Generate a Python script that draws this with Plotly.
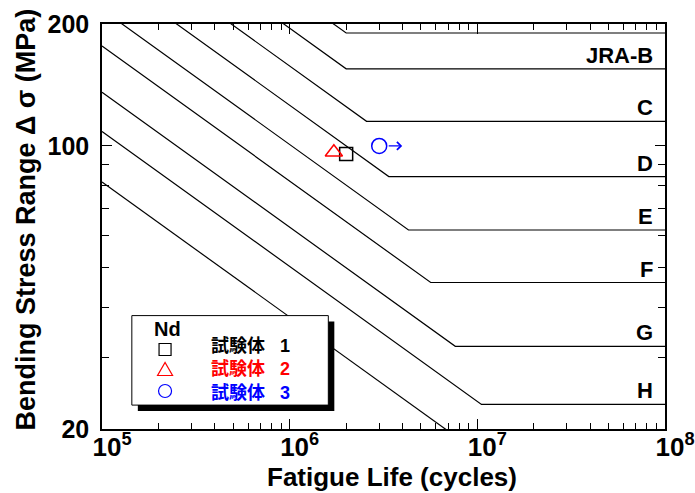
import math
import plotly.graph_objects as go

# JRA fatigue design categories (slope m = 3)
categories = ["A", "B", "C", "D", "E", "F", "G", "H", "H'"]
cat_labels = ["", "JRA-B", "C", "D", "E", "F", "G", "H", ""]
strength_2e6 = [190, 155, 125, 100, 80, 65, 50, 40, 30]      # MPa at 2x10^6 cycles
cafl = [190, 155, 115, 84, 62, 46, 32, 23, None]              # constant amplitude fatigue limit

# Test results
spec_names = ["試験体", "試験体", "試験体"]
spec_ids = ["1", "2", "3"]
spec_N = [2.0e6, 1.72e6, 3.0e6]
spec_S = [95.5, 96.5, 100.0]
spec_runout = [False, False, True]
spec_symbols = ["square-open", "triangle-up-open", "circle-open"]
spec_sizes = [13, 15, 15]
spec_colors = ["#000000", "#ff0000", "#0000ff"]

x_ticks = [1e5, 1e6, 1e7, 1e8]
x_ticktext = ["10<sup>5</sup>", "10<sup>6</sup>", "10<sup>7</sup>", "10<sup>8</sup>"]
y_ticks = [20, 100, 200]
y_ticktext = ["20", "100", "200"]

N_MIN, N_MAX = 1e5, 1e8
S_MIN, S_MAX = 20, 200

FONT = "Liberation Sans, Arial, Noto Sans CJK JP, sans-serif"

fig = go.Figure()

# S-N design curves: sloped part down to the knee, then horizontal
for cat, s2, lim in zip(categories, strength_2e6, cafl):
    s_start = s2 * (2e6 / N_MIN) ** (1 / 3)
    if lim is None:
        xs = [N_MIN, N_MAX]
        ys = [s_start, s2 * (2e6 / N_MAX) ** (1 / 3)]
    else:
        knee = 2e6 * (s2 / lim) ** 3
        xs = [N_MIN, knee, N_MAX]
        ys = [s_start, lim, lim]
    fig.add_trace(go.Scatter(
        x=xs, y=ys, mode="lines", name=cat, showlegend=False,
        line=dict(color="black", width=1.2), hoverinfo="skip"))

# Specimens
for nm, sid, n, s, sym, sz, col in zip(spec_names, spec_ids, spec_N, spec_S,
                                       spec_symbols, spec_sizes, spec_colors):
    fig.add_trace(go.Scatter(
        x=[n], y=[s], mode="markers", name=f"{nm} {sid}", showlegend=False,
        marker=dict(symbol=sym, size=sz, color=col, line=dict(width=1.5, color=col))))

annotations = []

# Run-out arrows
for n, s, ro, col in zip(spec_N, spec_S, spec_runout, spec_colors):
    if ro:
        annotations.append(dict(
            x=math.log10(n), y=math.log10(s), xref="x", yref="y", text="",
            showarrow=True, ax=-15, ay=0, axref="pixel", ayref="pixel", xshift=23,
            arrowhead=4, arrowsize=1.2, arrowwidth=1.3, arrowcolor=col))

# Category labels above each fatigue limit line
for lab, lim in zip(cat_labels, cafl):
    if lab and lim is not None:
        annotations.append(dict(
            x=1, y=math.log10(lim), xref="paper", yref="y", text=lab,
            showarrow=False, xanchor="right", yanchor="bottom", xshift=-10, yshift=-1,
            font=dict(family=FONT, size=22, color="black", weight="bold")))

# Axis titles
annotations.append(dict(
    x=0.515, y=-0.1173, xref="paper", yref="paper", text="Fatigue Life (cycles)",
    showarrow=False, xanchor="center", yanchor="middle",
    font=dict(family=FONT, size=26, color="black", weight="bold")))
annotations.append(dict(
    x=-0.135, y=0.517, xref="paper", yref="paper",
    text="Bending Stress Range Δ σ (MPa)", textangle=-90,
    showarrow=False, xanchor="center", yanchor="middle",
    font=dict(family=FONT, size=27, color="black", weight="bold")))

# Legend box with drop shadow
LX0, LX1, LY0, LY1 = 0.053, 0.402, 0.059, 0.280
SDX, SDY = 6 / 563, 6 / 405
shapes = [
    dict(type="rect", xref="paper", yref="paper", x0=LX0 + SDX, x1=LX1 + SDX,
         y0=LY0 - SDY, y1=LY1 - SDY, fillcolor="black", line=dict(width=0), layer="above"),
    dict(type="rect", xref="paper", yref="paper", x0=LX0, x1=LX1, y0=LY0, y1=LY1,
         fillcolor="white", line=dict(color="black", width=1), layer="above"),
]

key_x = 0.112
row_y = [0.1963, 0.1469, 0.0938]
text_x = 0.190

annotations.append(dict(
    x=0.1155, y=0.2457, xref="paper", yref="paper", text="Nd", showarrow=False,
    xanchor="center", yanchor="middle",
    font=dict(family=FONT, size=20, color="black", weight="bold")))

lines = []
for sym, col, ry, nm, sid in zip(spec_symbols, spec_colors, row_y, spec_names, spec_ids):
    base = dict(xref="paper", yref="paper", xsizemode="pixel", ysizemode="pixel",
                xanchor=key_x, yanchor=ry, line=dict(color=col, width=1.2),
                fillcolor="rgba(0,0,0,0)", layer="above")
    if sym.startswith("square"):
        shapes.append(dict(type="rect", x0=-6, x1=6, y0=-6, y1=6, **base))
    elif sym.startswith("triangle"):
        shapes.append(dict(type="path", path="M-7.5,-6 L7.5,-6 L0,7 Z", **base))
    else:
        shapes.append(dict(type="circle", x0=-6.5, x1=6.5, y0=-6.5, y1=6.5, **base))
    lines.append(f"<span style='color:{col}'>{nm}&nbsp;&nbsp;&nbsp;{sid}</span>")

# Specimen names as one block so the rows keep a tight pitch
annotations.append(dict(
    x=text_x, y=sum(row_y) / 3 + 0.002, xref="paper", yref="paper",
    text="<br>".join(lines), align="left",
    showarrow=False, xanchor="left", yanchor="middle",
    font=dict(family=FONT, size=18, color="black", weight="bold")))

axis_common = dict(
    type="log", showgrid=False, zeroline=False, showline=True, linecolor="black",
    linewidth=1.5, mirror="allticks", ticks="inside", ticklen=10, tickwidth=1,
    tickcolor="black", tickmode="array", automargin=False,
)

minor_x = [k * 10 ** e for e in range(5, 8) for k in range(2, 10)]
minor_y = [30, 40, 50, 60, 70, 80, 90]

fig.update_layout(
    width=695, height=493,
    margin=dict(l=102, r=30, t=24, b=64, autoexpand=False),
    paper_bgcolor="white", plot_bgcolor="white",
    showlegend=False,
    xaxis=dict(
        range=[math.log10(N_MIN), math.log10(N_MAX)],
        tickvals=x_ticks, ticktext=x_ticktext, ticklabelshift=10, ticklabelstandoff=-6,
        tickfont=dict(family=FONT, size=26, color="black", weight="bold"),
        minor=dict(tickvals=minor_x, ticks="inside", ticklen=6, tickcolor="black",
                   tickwidth=1, showgrid=False),
        **axis_common),
    yaxis=dict(
        range=[math.log10(S_MIN), math.log10(S_MAX)],
        tickvals=y_ticks, ticktext=y_ticktext, ticklabelstandoff=6,
        tickfont=dict(family=FONT, size=25, color="black", weight="bold"),
        minor=dict(tickvals=minor_y, ticks="inside", ticklen=7, tickcolor="black",
                   tickwidth=1, showgrid=False),
        **axis_common),
    annotations=annotations,
    shapes=shapes,
)

fig.write_html("out.html")
